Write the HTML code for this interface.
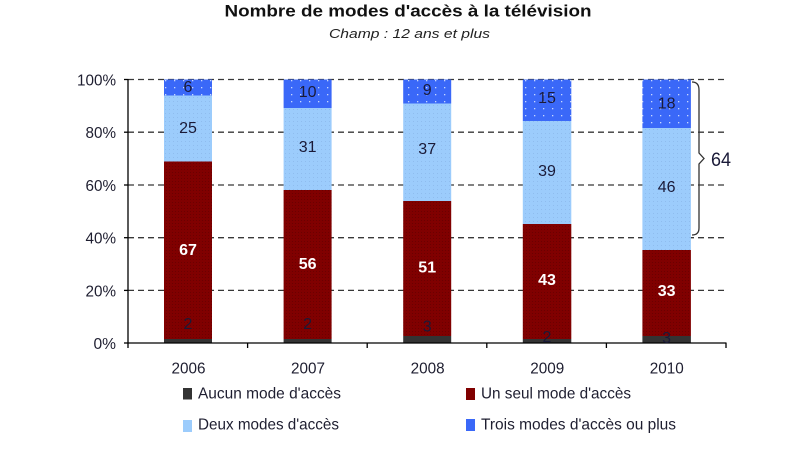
<!DOCTYPE html>
<html><head><meta charset="utf-8"><style>
html,body{margin:0;padding:0;background:#fff;width:800px;height:450px;overflow:hidden}
svg{display:block}
text{font-family:"Liberation Sans",Arial,sans-serif}
</style></head><body>
<svg width="800" height="450" viewBox="0 0 800 450" xmlns="http://www.w3.org/2000/svg">
<defs>
<pattern id="pb" width="9" height="7" patternUnits="userSpaceOnUse">
<rect width="9" height="7" fill="#3a68f8"/>
<rect x="3" y="3" width="1.3" height="1.3" fill="#c8d8ff"/>
</pattern>
<pattern id="plb" width="4" height="4" patternUnits="userSpaceOnUse">
<rect width="4" height="4" fill="#9cccfc"/>
<rect x="1" y="1" width="1" height="1" fill="#8fbcee"/>
</pattern>
<pattern id="pr" width="3" height="3" patternUnits="userSpaceOnUse">
<rect width="3" height="3" fill="#800000"/>
<rect x="1" y="1" width="1" height="1" fill="#6a0000"/>
</pattern>
</defs>

<text x="408" y="16.5" text-anchor="middle" font-size="17" font-weight="bold" fill="#111" textLength="367" lengthAdjust="spacingAndGlyphs">Nombre de modes d'accès à la télévision</text>
<text x="329" y="38" font-size="13" font-style="italic" fill="#222" textLength="161" lengthAdjust="spacingAndGlyphs">Champ : 12 ans et plus</text>

<!-- gridlines -->
<g stroke="#383838" stroke-width="1.3" stroke-dasharray="6 4">
<line x1="128" y1="79.5" x2="726" y2="79.5"/>
<line x1="128" y1="132.2" x2="726" y2="132.2"/>
<line x1="128" y1="185" x2="726" y2="185"/>
<line x1="128" y1="237.7" x2="726" y2="237.7"/>
<line x1="128" y1="290.4" x2="726" y2="290.4"/>
</g>

<!-- bars -->
<rect x="164" y="339" width="48" height="4" fill="#333"/>
<rect x="164" y="161.5" width="48" height="177.5" fill="url(#pr)"/>
<rect x="164" y="95.5" width="48" height="66" fill="url(#plb)"/>
<rect x="164" y="79.5" width="48" height="16" fill="url(#pb)"/>

<rect x="283.6" y="339" width="48" height="4" fill="#333"/>
<rect x="283.6" y="190" width="48" height="149" fill="url(#pr)"/>
<rect x="283.6" y="108" width="48" height="82" fill="url(#plb)"/>
<rect x="283.6" y="79.5" width="48" height="28.5" fill="url(#pb)"/>

<rect x="403.2" y="336" width="48" height="7" fill="#333"/>
<rect x="403.2" y="201" width="48" height="135" fill="url(#pr)"/>
<rect x="403.2" y="103.5" width="48" height="97.5" fill="url(#plb)"/>
<rect x="403.2" y="79.5" width="48" height="24" fill="url(#pb)"/>

<rect x="522.8" y="339" width="48.5" height="4" fill="#333"/>
<rect x="522.8" y="224" width="48.5" height="115" fill="url(#pr)"/>
<rect x="522.8" y="121" width="48.5" height="103" fill="url(#plb)"/>
<rect x="522.8" y="79.5" width="48.5" height="41.5" fill="url(#pb)"/>

<rect x="642.4" y="336" width="48.5" height="7" fill="#333"/>
<rect x="642.4" y="250" width="48.5" height="86" fill="url(#pr)"/>
<rect x="642.4" y="128" width="48.5" height="122" fill="url(#plb)"/>
<rect x="642.4" y="79.5" width="48.5" height="48.5" fill="url(#pb)"/>

<!-- axes -->
<g stroke="#000" stroke-width="1.3" fill="none">
<line x1="128" y1="79" x2="128" y2="343.5"/>
<line x1="128" y1="343" x2="726.5" y2="343"/>
<line x1="124" y1="79.5" x2="128" y2="79.5"/>
<line x1="124" y1="132.2" x2="128" y2="132.2"/>
<line x1="124" y1="185" x2="128" y2="185"/>
<line x1="124" y1="237.7" x2="128" y2="237.7"/>
<line x1="124" y1="290.4" x2="128" y2="290.4"/>
<line x1="124" y1="343" x2="128" y2="343"/>
<line x1="128" y1="343" x2="128" y2="348"/>
<line x1="247.6" y1="343" x2="247.6" y2="348"/>
<line x1="367.2" y1="343" x2="367.2" y2="348"/>
<line x1="486.8" y1="343" x2="486.8" y2="348"/>
<line x1="606.4" y1="343" x2="606.4" y2="348"/>
<line x1="726" y1="343" x2="726" y2="348"/>
</g>

<!-- y labels -->
<g font-size="16" fill="#1e1e30">
<text x="77" y="85.5" textLength="39" lengthAdjust="spacingAndGlyphs">100%</text>
<text x="85.5" y="138.2" textLength="30.5" lengthAdjust="spacingAndGlyphs">80%</text>
<text x="85.5" y="191" textLength="30.5" lengthAdjust="spacingAndGlyphs">60%</text>
<text x="85.5" y="243.7" textLength="30.5" lengthAdjust="spacingAndGlyphs">40%</text>
<text x="85.5" y="296.4" textLength="30.5" lengthAdjust="spacingAndGlyphs">20%</text>
<text x="93.5" y="349" textLength="22.5" lengthAdjust="spacingAndGlyphs">0%</text>
</g>

<!-- x labels -->
<g font-size="16" fill="#1e1e30">
<text x="171.5" y="373.5" textLength="34" lengthAdjust="spacingAndGlyphs">2006</text>
<text x="291" y="373.5" textLength="34" lengthAdjust="spacingAndGlyphs">2007</text>
<text x="410.6" y="373.5" textLength="34" lengthAdjust="spacingAndGlyphs">2008</text>
<text x="530.2" y="373.5" textLength="34" lengthAdjust="spacingAndGlyphs">2009</text>
<text x="649.8" y="373.5" textLength="34" lengthAdjust="spacingAndGlyphs">2010</text>
</g>

<!-- bar labels -->
<g font-size="16" text-anchor="middle" fill="#1a1a38">
<text x="188" y="92">6</text>
<text x="188" y="133">25</text>
<text x="188" y="329">2</text>
<text x="307.6" y="97">10</text>
<text x="307.6" y="152">31</text>
<text x="307.6" y="329">2</text>
<text x="427.2" y="95">9</text>
<text x="427.2" y="154">37</text>
<text x="427.2" y="331.5">3</text>
<text x="547" y="103">15</text>
<text x="547" y="176">39</text>
<text x="547" y="342">2</text>
<text x="666.6" y="108.5">18</text>
<text x="666.6" y="192">46</text>
<text x="666.6" y="343">3</text>
</g>
<g font-size="16" text-anchor="middle" fill="#fff" font-weight="bold">
<text x="188" y="255">67</text>
<text x="307.6" y="269">56</text>
<text x="427.2" y="272.5">51</text>
<text x="547" y="285">43</text>
<text x="666.6" y="296">33</text>
</g>

<!-- bracket -->
<path d="M692,82 Q699,82 699,90 L699,153 L704,158.5 L699,164 L699,228 Q699,235 692,235" fill="none" stroke="#333" stroke-width="1.3"/>
<text x="711" y="166" font-size="19.5" fill="#1a1a38" textLength="20" lengthAdjust="spacingAndGlyphs">64</text>

<!-- legend -->
<rect x="183" y="388" width="9" height="11.5" fill="#333"/>
<text x="198" y="398.5" font-size="16" fill="#1e1e30" textLength="143" lengthAdjust="spacingAndGlyphs">Aucun mode d'accès</text>
<rect x="183" y="420" width="9" height="12" fill="#9cccfc"/>
<text x="198" y="429.5" font-size="16" fill="#1e1e30" textLength="141" lengthAdjust="spacingAndGlyphs">Deux modes d'accès</text>
<rect x="466" y="388" width="9" height="12" fill="#800000"/>
<text x="481" y="398.5" font-size="16" fill="#1e1e30" textLength="150" lengthAdjust="spacingAndGlyphs">Un seul mode d'accès</text>
<rect x="466" y="419" width="9" height="12" fill="#3a68f8"/>
<text x="481" y="429.5" font-size="16" fill="#1e1e30" textLength="195" lengthAdjust="spacingAndGlyphs">Trois modes d'accès ou plus</text>
</svg>
</body></html>
